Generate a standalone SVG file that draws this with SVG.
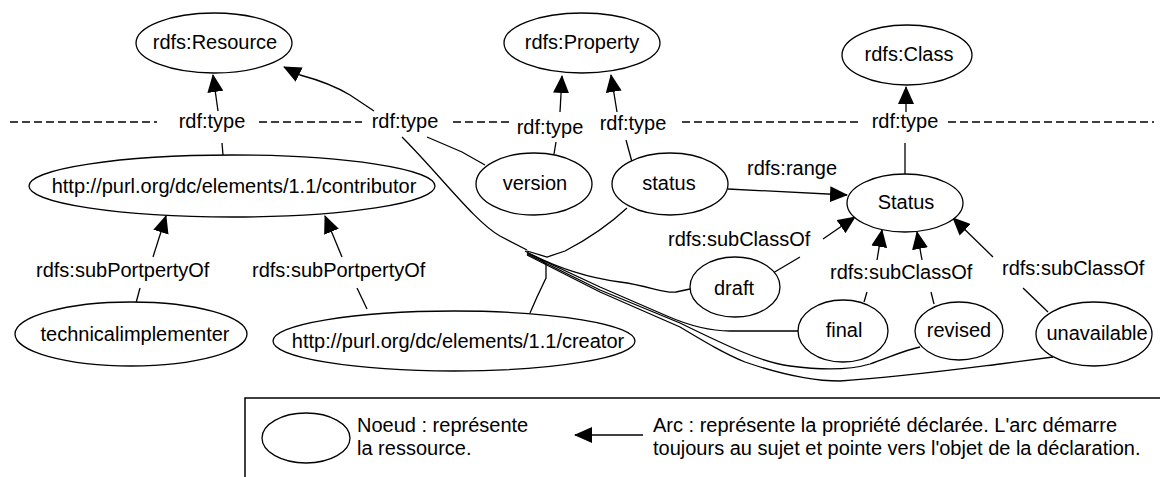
<svg xmlns="http://www.w3.org/2000/svg" width="1160" height="477" viewBox="0 0 1160 477">
<style>
text{font-family:"Liberation Sans",Arial,Helvetica,sans-serif;font-size:20px;fill:#000}
.c{text-anchor:middle}
ellipse{fill:#fff;stroke:#000;stroke-width:1.3}
.e{fill:none;stroke:#000;stroke-width:1.3}
.a{marker-end:url(#arr)}
.d{fill:none;stroke:#000;stroke-width:1.3;stroke-dasharray:8 4}
</style>
<defs>
<marker id="arr" markerUnits="userSpaceOnUse" viewBox="0 0 18 16" refX="17" refY="8" markerWidth="18" markerHeight="16" orient="auto">
<path d="M0,0 L18,8 L0,16 Z" fill="#000"/>
</marker>
</defs>
<rect width="1160" height="477" fill="#fff"/>

<g id="separator">
<path class="d" d="M10,122 H157 M259,122 H362 M453,122 H512 M682,122 H862 M948,122 H1154"/>
</g>

<g id="connectors">
<!-- contributor -> rdfs:Resource -->
<path class="e a" d="M218,111 L213,75"/>
<path class="e" d="M222,143 L223,155"/>
<!-- bundle -> rdfs:Resource -->
<path class="e a" d="M374,111 L350,95 Q330,83 300,75 L284,67"/>
<path class="e" d="M427,137 L462,152 L485,165"/>
<path class="e" d="M402,137 C440,175 475,222 500,236 L527,250"/>
<path class="e" d="M627,208 C612,222 590,238 565,251 L547,257 L527,251"/>
<path class="e" d="M530,313 L537,297 L546,278 L546,264 L540,259"/>
<path class="e" d="M525,251 C560,270 590,278 620,282 C650,286 665,294 676,292 L690,289"/>
<path class="e" d="M527,253 L600,287 L667,316 C690,326 710,331 730,331 L799,331"/>
<path class="e" d="M527,254 L600,290 L680,323 C725,345 760,362 790,366 C820,370 850,370 870,364 C890,357 905,350 920,347"/>
<path class="e" d="M527,255 L600,292 L680,327 C705,342 725,354 745,362 C780,374 810,381 840,381 C900,377 960,369 1000,364 L1053,357"/>
<!-- version -> rdfs:Property -->
<path class="e a" d="M560,112 L562,76"/>
<path class="e" d="M556,142 L554,154"/>
<!-- status -> rdfs:Property -->
<path class="e a" d="M617,112 L611,75"/>
<path class="e" d="M626,140 L632,162"/>
<!-- Status -> rdfs:Class -->
<path class="e a" d="M906,112 L906,87"/>
<path class="e" d="M905,143 L905,174"/>
<!-- status -> Status (range) -->
<path class="e a" d="M728,189 L847,195"/>
<!-- draft -> Status -->
<path class="e a" d="M823,239 L855,217"/>
<path class="e" d="M800,257 L773,273"/>
<!-- final -> Status -->
<path class="e a" d="M877,260 L882,230"/>
<path class="e" d="M867,292 L864,302"/>
<!-- revised -> Status -->
<path class="e a" d="M922,260 L917,232"/>
<path class="e" d="M931,292 L934,304"/>
<!-- unavailable -> Status -->
<path class="e a" d="M993,257 L953,218"/>
<path class="e" d="M1023,288 L1048,312"/>
<!-- technicalimplementer -> contributor -->
<path class="e a" d="M153,257 L166,216"/>
<path class="e" d="M140,288 L136,303"/>
<!-- creator -> contributor -->
<path class="e a" d="M342,257 L325,216"/>
<path class="e" d="M357,288 L367,309"/>
</g>

<g id="edge-labels">
<text class="c" x="212" y="128">rdf:type</text>
<text class="c" x="405" y="128">rdf:type</text>
<text class="c" x="550" y="134">rdf:type</text>
<text class="c" x="633" y="130">rdf:type</text>
<text class="c" x="905" y="128">rdf:type</text>
<text x="747" y="175">rdfs:range</text>
<text x="668" y="246">rdfs:subClassOf</text>
<text x="830" y="279">rdfs:subClassOf</text>
<text x="1002" y="275">rdfs:subClassOf</text>
<text x="36" y="277">rdfs:subPortpertyOf</text>
<text x="252" y="277">rdfs:subPortpertyOf</text>
</g>

<g id="n-resource"><ellipse cx="214" cy="43" rx="78" ry="30"/><text class="c" x="215" y="49">rdfs:Resource</text></g>
<g id="n-property"><ellipse cx="582" cy="43" rx="78" ry="30"/><text class="c" x="582" y="49">rdfs:Property</text></g>
<g id="n-class"><ellipse cx="907" cy="55" rx="65" ry="30"/><text class="c" x="909" y="61">rdfs:Class</text></g>
<g id="n-contributor"><ellipse cx="232" cy="186" rx="203" ry="31"/><text class="c" x="234" y="193">http://purl.org/dc/elements/1.1/contributor</text></g>
<g id="n-version"><ellipse cx="534" cy="184" rx="58" ry="31"/><text class="c" x="535" y="190">version</text></g>
<g id="n-status"><ellipse cx="670" cy="184" rx="58" ry="31"/><text class="c" x="669" y="190">status</text></g>
<g id="n-Status"><ellipse cx="905" cy="203" rx="58" ry="29"/><text class="c" x="906" y="209">Status</text></g>
<g id="n-draft"><ellipse cx="735" cy="287" rx="45" ry="30"/><text class="c" x="734" y="295">draft</text></g>
<g id="n-final"><ellipse cx="843" cy="331" rx="45" ry="31"/><text class="c" x="844" y="337">final</text></g>
<g id="n-revised"><ellipse cx="959" cy="331" rx="44" ry="29"/><text class="c" x="959" y="337">revised</text></g>
<g id="n-unavailable"><ellipse cx="1094" cy="334" rx="58" ry="32"/><text class="c" x="1097" y="340">unavailable</text></g>
<g id="n-technicalimplementer"><ellipse cx="131" cy="334" rx="116" ry="32"/><text class="c" x="135" y="341">technicalimplementer</text></g>
<g id="n-creator"><ellipse cx="454" cy="341" rx="181" ry="30"/><text class="c" x="458" y="348">http://purl.org/dc/elements/1.1/creator</text></g>

<g id="legend">
<rect x="245" y="398" width="930" height="100" fill="none" stroke="#000" stroke-width="1.5"/>
<ellipse cx="306" cy="438" rx="44" ry="25"/>
<text x="357" y="432">Noeud : représente</text>
<text x="357" y="455">la ressource.</text>
<path class="e a" d="M643,435 L575,435"/>
<text x="653" y="432">Arc : représente la propriété déclarée. L'arc démarre</text>
<text x="653" y="455">toujours au sujet et pointe vers l'objet de la déclaration.</text>
</g>
</svg>
